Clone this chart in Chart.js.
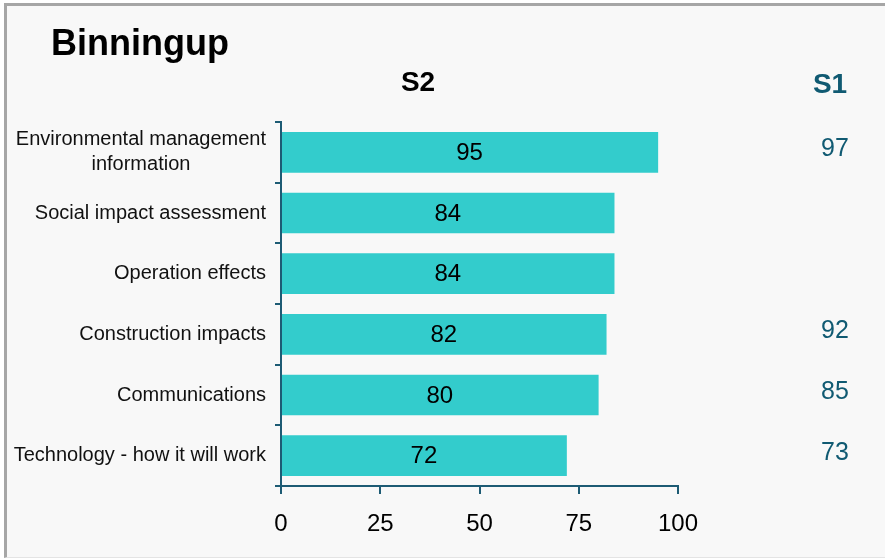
<!DOCTYPE html>
<html>
<head>
<meta charset="utf-8">
<script src="https://cdn.jsdelivr.net/npm/chart.js@4"></script>
<style>
    body { margin: 0; background: #ffffff; }
    #frame {
        position: absolute;
        left: 4px; top: 3px;
        width: 890px; height: 551px;
        background: #f8f8f8;
        border-top: 3px solid #a6a6a6;
        border-left: 3px solid #a6a6a6;
        border-bottom: 1px solid #e4e4e4;
    }
    #wrap { position: absolute; left: 0; top: 0; width: 885px; height: 558px; }
</style>
</head>
<body>
<div id="frame"></div>
<div id="wrap"><canvas id="chart" width="885" height="558"></canvas></div>
<script>
// data
const categories = [
    ['Environmental management', 'information'],
    'Social impact assessment',
    'Operation effects',
    'Construction impacts',
    'Communications',
    'Technology - how it will work'
];
const s2Values = [95, 84, 84, 82, 80, 72];
const s1Values = [97, null, null, 92, 85, 73];
const xTicks = [0, 25, 50, 75, 100];

const FONT = '"Liberation Sans", Arial, sans-serif';
const axisColor = '#1d5b74';
const s1Color = '#105a72';

// draws title, column headers, category names, bar values and the S1 column
const labelsPlugin = {
    id: 'labels',
    afterDatasetsDraw(chart) {
        const ctx = chart.ctx;
        const meta = chart.getDatasetMeta(0);
        const x = chart.scales.x;
        const y = chart.scales.y;
        ctx.save();

        ctx.fillStyle = '#000';
        ctx.font = 'bold 36px ' + FONT;
        ctx.textAlign = 'left';
        ctx.textBaseline = 'alphabetic';
        ctx.fillText('Binningup', 51, 55);

        ctx.font = 'bold 28px ' + FONT;
        ctx.textAlign = 'center';
        ctx.fillText('S2', 418, 91);

        ctx.fillStyle = s1Color;
        ctx.fillText('S1', 830, 93);

        // category names, right edge at 266, multi-line ones centred on each other
        ctx.textBaseline = 'middle';
        ctx.font = '20px ' + FONT;
        ctx.fillStyle = '#111';
        const right = 266;
        categories.forEach(function(cat, i) {
            const cy = y.getPixelForValue(i);
            const lines = Array.isArray(cat) ? cat : [cat];
            const w = Math.max.apply(null, lines.map(l => ctx.measureText(l).width));
            const lh = 25;
            lines.forEach(function(line, j) {
                ctx.textAlign = 'center';
                ctx.fillText(line, right - w / 2, cy + (j - (lines.length - 1) / 2) * lh);
            });
        });

        ctx.textAlign = 'center';
        ctx.font = '24px ' + FONT;
        meta.data.forEach(function(bar, i) {
            ctx.fillStyle = '#000';
            ctx.fillText(String(s2Values[i]), (x.getPixelForValue(0) + bar.x) / 2, bar.y + 1);
            if (s1Values[i] !== null) {
                ctx.fillStyle = s1Color;
                ctx.font = '25px ' + FONT;
                ctx.fillText(String(s1Values[i]), 835, bar.y - 3);
                ctx.font = '24px ' + FONT;
            }
        });
        ctx.restore();
    }
};

new Chart(document.getElementById('chart'), {
    type: 'bar',
    data: {
        labels: categories,
        datasets: [{
            label: 'S2',
            data: s2Values,
            backgroundColor: '#33cccc',
            borderWidth: 0,
            barPercentage: 0.67,
            categoryPercentage: 1
        }]
    },
    options: {
        indexAxis: 'y',
        responsive: false,
        animation: false,
        layout: { padding: { top: 122, right: 207, bottom: 0, left: 0 } },
        scales: {
            x: {
                min: 0,
                max: 100,
                afterBuildTicks(scale) {
                    scale.ticks = xTicks.map(v => ({ value: v }));
                },
                afterFit(scale) { scale.height = 72; },
                border: { color: axisColor, width: 2 },
                grid: { drawOnChartArea: false, tickLength: 8, color: axisColor, lineWidth: 2 },
                ticks: { color: '#000', font: { family: FONT, size: 24 }, padding: 16 }
            },
            y: {
                afterFit(scale) { scale.width = 281; },
                border: { color: axisColor, width: 2 },
                grid: { drawOnChartArea: false, tickLength: 6, color: axisColor, lineWidth: 2, offset: true },
                ticks: { display: false }
            }
        },
        plugins: {
            legend: { display: false },
            tooltip: { enabled: false }
        }
    },
    plugins: [labelsPlugin]
});
</script>
</body>
</html>
